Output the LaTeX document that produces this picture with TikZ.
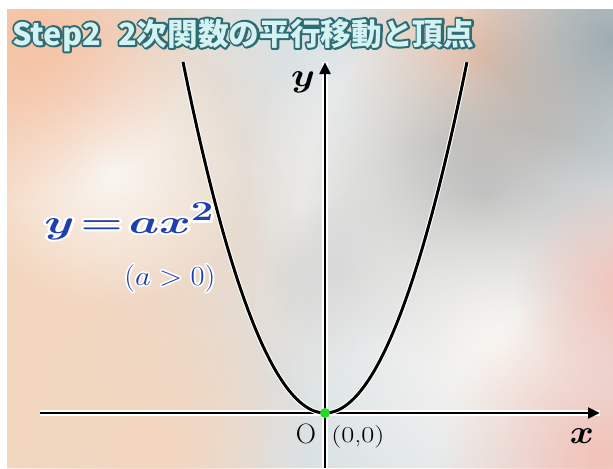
\documentclass[tikz,border=0pt]{standalone}
\usepackage{fontspec}
\usetikzlibrary{arrows.meta,fadings}
\newfontfamily\jpfont{Noto Sans CJK JP}
\definecolor{vbase}{HTML}{DAE2E5}
\definecolor{vpeach}{HTML}{F4D6BE}
\definecolor{vorange}{HTML}{F6C2A4}
\definecolor{vgrey}{HTML}{A9ABAB}
\definecolor{vsteel}{HTML}{9FACB1}
\definecolor{vwhite}{HTML}{FAF7F3}
\definecolor{vpink}{HTML}{F2C2B8}
\definecolor{titlefill}{HTML}{D3F2F1}
\definecolor{titleedge}{HTML}{2E6B73}
\definecolor{formblue}{HTML}{1F3FB0}
\definecolor{vgreen}{HTML}{22DD22}
\tikzfading[name=soft, inner color=transparent!0, outer color=transparent!100]
\tikzset{
  blob/.style   ={path fading=soft},
  halo/.style   ={draw=white, line width=3.8pt},
  axis/.style   ={draw=black, line width=2.2pt,
                  -{Triangle[length=9pt, width=8pt]}},
  curve/.style  ={draw=black, line width=2.2pt},
  vertex/.style ={circle, fill=vgreen, minimum size=7.5pt, inner sep=0pt},
  title/.style  ={anchor=base west, inner sep=0pt,
                  font=\jpfont\bfseries\fontsize{23}{23}\selectfont},
  axlabel/.style={inner sep=0pt},
}
% outlined text: edge colour, fill colour, stroke width, text
\newcommand{\outl}[4]{%
  \makebox[0pt][l]{\color{#1}\special{pdf:literal direct 1 Tr #3 w 1 j}#4%
    \special{pdf:literal direct 0 Tr}}%
  {\color{#2}#4}}

\begin{document}
\begin{tikzpicture}[x=0.75pt, y=-0.75pt]
  \useasboundingbox (0,0) rectangle (613,468);
  \fill[white] (0,0) rectangle (613,468);
  \fill[vbase] (7,9) rectangle (613,468);

  % blurred video background
  \begin{scope}
    \clip (7,9) rectangle (613,468);
    \fill[vpeach, path fading=east] (7,9) rectangle (270,468);
    \fill[vpeach, blob] (70,250) circle[radius=300];
    \fill[vwhite, blob] (110,170) circle[radius=140];
    \fill[vorange, blob] (30,40) circle[radius=160];
    \fill[vorange, blob] (480,60) circle[radius=140];
    \fill[vsteel, blob] (610,40) circle[radius=150];
    \fill[vwhite, blob] (390,170) circle[radius=150];
    \fill[vgrey, blob] (485,195) circle[radius=180];
    \fill[vgrey!55, blob] (345,275) circle[radius=80];
    \fill[vwhite, blob] (500,345) circle[radius=220];
    \fill[vpink, blob] (600,455) circle[radius=160];
    \fill[vpink, blob] (625,290) circle[radius=110];
    \fill[vpeach, blob] (150,450) circle[radius=160];
  \end{scope}

  \node[title] (step) at (12,45) {\outl{titleedge}{titlefill}{3}{Step2}};
  \node[title] (topic) at (118,45)
    {\outl{titleedge}{titlefill}{3}{2次関数の平行移動と頂点}};

  \coordinate (O) at (325,413);
  \coordinate (xstart) at (40,413);
  \coordinate (xend) at (600,413);
  \coordinate (ystart) at (325,468);
  \coordinate (yend) at (325,62);

  \draw[halo] (xstart) -- (xend);
  \draw[halo] (ystart) -- (yend);
  \draw[axis] (xstart) -- (xend);
  \draw[axis] (ystart) -- (yend);

  \draw[halo] plot[domain=-1.42:1.42, samples=60, smooth]
    ({325+100*\x},{413-174.1*\x*\x});
  \draw[curve] plot[domain=-1.42:1.42, samples=60, smooth]
    ({325+100*\x},{413-174.1*\x*\x});

  \node[vertex] (vtx) at (O) {};

  \node[axlabel, font=\boldmath\fontsize{33}{33}\selectfont] (ylab) at (303,82)
    {\scalebox{1.15}[1]{$y$}};
  \node[axlabel, font=\boldmath\fontsize{36}{36}\selectfont] (xlab) at (582,436)
    {\scalebox{1.1}[1]{$x$}};
  \node[axlabel, font=\fontsize{21}{21}\selectfont] (orig) at (306,434) {O};
  \node[axlabel, anchor=west, font=\fontsize{17}{17}\selectfont] (vlab)
    at (331,437) {\scalebox{1.25}[1]{(0,0)}};

  \node[anchor=base west, inner sep=0pt,
        font=\boldmath\fontsize{30}{30}\selectfont] (func) at (44,233)
    {\scalebox{1.45}[1]{\outl{white}{formblue}{3}{$y\!=\!ax^2$}}};
  \node[anchor=base west, inner sep=0pt,
        font=\fontsize{20}{20}\selectfont] (cond) at (124,285)
    {\scalebox{1.1}[1]{\outl{white}{formblue}{2.5}{$(a>0)$}}};
\end{tikzpicture}
\end{document}
